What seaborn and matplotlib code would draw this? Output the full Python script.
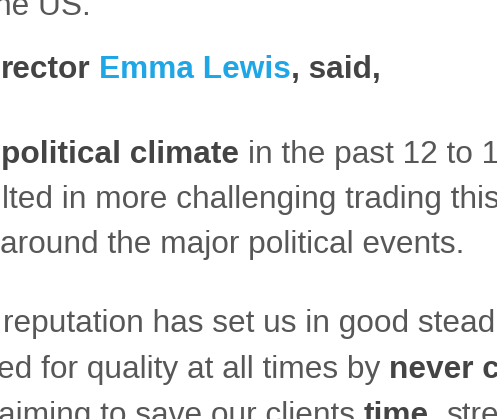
import matplotlib
matplotlib.use("Agg")
import matplotlib.pyplot as plt
import seaborn as sns

# text lines of the cropped article, split into runs: (text, kind)
line_1 = [("he US.", "plain")]
line_2 = [("rector", "bold"), ("Emma Lewis", "name"), (", said,", "bold")]
line_3 = [("political climate", "bold"), ("in the past 12 to 1", "plain")]
line_4 = [("lted in more challenging trading this", "plain")]
line_5 = [("around the major political events.", "plain")]
line_6 = [("reputation has set us in good stead", "plain")]
line_7 = [("ed for quality at all times by", "plain"), ("never c", "bold")]
line_8 = [("aiming to save our clients", "plain"), ("time,", "bold"), ("stre", "plain")]

lines = [line_1, line_2, line_3, line_4, line_5, line_6, line_7, line_8]

# layout (pixels): left start and baseline of each line
starts = [-6, 1, 1, 2, 0, 3, -3, -2]
baselines = [15, 78, 163, 208, 253, 332, 378, 424]

styles = {
    "plain": dict(color="#575757", fontweight="normal"),
    "bold": dict(color="#444444", fontweight="bold"),
    "name": dict(color="#1ea6e6", fontweight="bold"),
}

sns.set_theme(style="white")
plt.rcParams["font.family"] = ["Liberation Sans", "DejaVu Sans"]
FONT_SIZE = 22.8

fig = plt.figure(figsize=(4.97, 4.19), dpi=100)
ax = fig.add_axes([0, 0, 1, 1])
ax.set_xlim(0, 497)
ax.set_ylim(419, 0)
ax.axis("off")

renderer = fig.canvas.get_renderer()
inv = ax.transData.inverted()


def text_width(t):
    bb = t.get_window_extent(renderer=renderer)
    x0 = inv.transform((bb.x0, bb.y0))[0]
    x1 = inv.transform((bb.x1, bb.y0))[0]
    return x1 - x0


def space_width(weight):
    a = ax.text(0, 0, "x x", fontsize=FONT_SIZE, fontweight=weight)
    b = ax.text(0, 0, "xx", fontsize=FONT_SIZE, fontweight=weight)
    w = text_width(a) - text_width(b)
    a.remove()
    b.remove()
    return w


for runs, x, y in zip(lines, starts, baselines):
    for i, (txt, kind) in enumerate(runs):
        st = styles[kind]
        if i > 0 and not txt.startswith(","):
            x += space_width(st["fontweight"])
        t = ax.text(x, y, txt, fontsize=FONT_SIZE, va="baseline", ha="left",
                    clip_on=False, **st)
        x += text_width(t)

fig.savefig("out.png", dpi=100, facecolor="white")
